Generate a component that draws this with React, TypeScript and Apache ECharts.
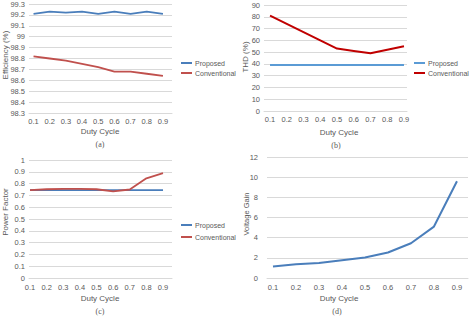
import React, { useEffect, useRef } from "react";
import * as echarts from "echarts";

const dutyCycle = [0.1, 0.2, 0.3, 0.4, 0.5, 0.6, 0.7, 0.8, 0.9];

const effProposed = [99.21, 99.23, 99.22, 99.23, 99.21, 99.23, 99.21, 99.23, 99.21];
const effConventional = [98.82, 98.8, 98.78, 98.75, 98.72, 98.68, 98.68, 98.66, 98.64];

const thdProposed = [39, 39, 39, 39, 39, 39, 39, 39, 39];
const thdConventional = [81, 74, 67, 60, 53, 51, 49, 52, 55];

const pfProposed = [0.745, 0.745, 0.745, 0.745, 0.745, 0.745, 0.745, 0.745, 0.745];
const pfConventional = [0.745, 0.752, 0.756, 0.756, 0.752, 0.735, 0.75, 0.845, 0.888];

const voltageGain = [1.15, 1.37, 1.48, 1.77, 2.03, 2.53, 3.45, 5.1, 9.6];

const TXT = "#595959";
const GRID = "#d9d9d9";
const FONT = "'Liberation Sans', Arial, sans-serif";
const SERIF = "'Liberation Serif', 'Times New Roman', serif";

const pairs = (ys: number[]) => dutyCycle.map((d, i) => [d, ys[i]]);

function xAxisFor(gridIndex: number, min: number, max: number, margin: number) {
  return {
    type: "value",
    gridIndex,
    min,
    max,
    axisLine: { show: true, lineStyle: { color: GRID, width: 1 } },
    axisTick: { show: false },
    splitLine: { show: false },
    axisLabel: {
      customValues: dutyCycle,
      color: TXT,
      fontSize: 7.5,
      fontFamily: FONT,
      margin,
      formatter: (v: number) => String(Math.round(v * 10) / 10),
    },
  };
}

function yAxisFor(gridIndex: number, min: number, max: number, interval: number, margin: number) {
  return {
    type: "value",
    gridIndex,
    min,
    max,
    interval,
    axisLine: { show: false },
    axisTick: { show: false },
    splitLine: { show: true, lineStyle: { color: GRID, width: 1 } },
    axisLabel: {
      color: TXT,
      fontSize: 7.5,
      fontFamily: FONT,
      margin,
      formatter: (v: number) => String(Math.round(v * 100) / 100),
    },
  };
}

function legendFor(left: number, top: number, lineHeight: number, blue: string, red: string) {
  return {
    orient: "vertical",
    left,
    top,
    padding: 0,
    itemGap: 0,
    itemWidth: 11,
    itemHeight: 2,
    icon: "rect",
    textStyle: { color: TXT, fontSize: 7, fontFamily: FONT, lineHeight, padding: [0, 0, 0, -2] },
    data: [
      { name: "Proposed", itemStyle: { color: blue } },
      { name: "Conventional", itemStyle: { color: red } },
    ],
  };
}

function text(x: number, y: number, t: string, size: number, family: string, rotation = 0) {
  return {
    type: "text",
    x,
    y,
    rotation,
    style: {
      text: t,
      fill: TXT,
      fontSize: size,
      fontFamily: family,
      align: "center",
      verticalAlign: "middle",
    },
  };
}

function line(name: string, idx: number, data: number[][], color: string, width: number) {
  return {
    type: "line",
    name,
    xAxisIndex: idx,
    yAxisIndex: idx,
    data,
    showSymbol: false,
    symbol: "none",
    lineStyle: { color, width },
    itemStyle: { color },
  };
}

export default function App() {
  const ref = useRef<HTMLDivElement>(null);
  useEffect(() => {
    if (!ref.current) return;
    const chart = echarts.init(ref.current, undefined, { renderer: "svg" });
    const blueA = "#4a7ebb";
    const redA = "#c0504d";
    const blueB = "#5b9bd5";
    const redB = "#c00000";
    chart.setOption({
      animation: false,
      backgroundColor: "#ffffff",
      grid: [
        { left: 29, top: 3, width: 143, height: 110 },
        { left: 264, top: 5, width: 143, height: 106 },
        { left: 29, top: 160, width: 143, height: 118 },
        { left: 267, top: 157, width: 201, height: 121 },
      ],
      xAxis: [
        xAxisFor(0, 0.072, 0.956, 4),
        xAxisFor(1, 0.064, 0.918, 4),
        xAxisFor(2, 0.094, 0.954, 5),
        xAxisFor(3, 0.074, 0.948, 5),
      ],
      yAxis: [
        yAxisFor(0, 98.3, 99.3, 0.1, 4),
        yAxisFor(1, 0, 90, 10, 4),
        yAxisFor(2, 0, 1, 0.1, 4),
        yAxisFor(3, 0, 12, 2, 9),
      ],
      legend: [
        legendFor(181, 58, 10, blueA, redA),
        legendFor(414, 58, 10, blueB, redB),
        legendFor(181, 219, 12, blueA, redA),
      ],
      series: [
        line("Proposed", 0, pairs(effProposed), blueA, 1.8),
        line("Conventional", 0, pairs(effConventional), redA, 1.8),
        line("Proposed", 1, pairs(thdProposed), blueB, 2),
        line("Conventional", 1, pairs(thdConventional), redB, 2),
        line("Proposed", 2, pairs(pfProposed), blueA, 1.8),
        line("Conventional", 2, pairs(pfConventional), redA, 1.8),
        line("Voltage Gain", 3, pairs(voltageGain), blueA, 2),
      ],
      graphic: [
        text(100, 131, "Duty Cycle", 8, FONT),
        text(339, 132, "Duty Cycle", 8, FONT),
        text(100, 298, "Duty Cycle", 8, FONT),
        text(339, 298, "Duty Cycle", 8, FONT),
        text(100, 144, "(a)", 8, SERIF),
        text(336, 145, "(b)", 8, SERIF),
        text(100, 311, "(c)", 8, SERIF),
        text(337, 311, "(d)", 8, SERIF),
        text(5, 55, "Efficiency (%)", 8, FONT, Math.PI / 2),
        text(245, 57, "THD (%)", 8, FONT, Math.PI / 2),
        text(5, 212, "Power Factor", 8, FONT, Math.PI / 2),
        text(246, 214, "Voltage Gain", 7.5, FONT, Math.PI / 2),
      ],
    });
    return () => chart.dispose();
  }, []);
  return (
    <div
      ref={ref}
      style={{ position: "absolute", left: 0, top: 0, width: 471, height: 317, background: "#fff" }}
    />
  );
}
